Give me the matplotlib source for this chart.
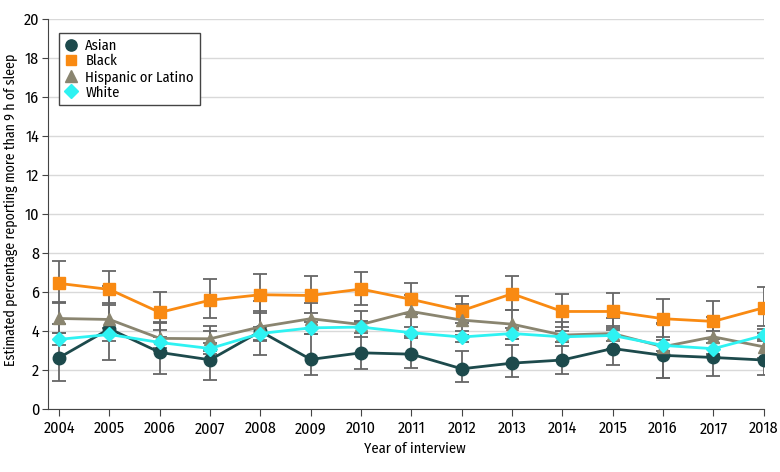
import matplotlib
matplotlib.use("Agg")
import matplotlib.pyplot as plt

plt.rcParams["font.family"] = ["Fira Sans Condensed", "DejaVu Sans"]

years = list(range(2004, 2019))

# ----------------------------
# SERIES (estimate, lower CI, upper CI)
# ----------------------------
asian = [2.62, 4.10, 2.89, 2.51, 3.97, 2.53, 2.87, 2.80, 2.05, 2.34, 2.50, 3.09, 2.74, 2.63, 2.50]
asian_lo = [1.42, 2.48, 1.78, 1.50, 2.75, 1.73, 2.02, 2.07, 1.37, 1.64, 1.78, 2.22, 1.59, 1.66, 1.71]
asian_hi = [4.36, 6.29, 4.44, 3.97, 5.52, 3.81, 4.46, 3.90, 2.96, 3.25, 3.42, 4.24, 4.36, 3.98, 3.56]

black = [6.43, 6.12, 4.94, 5.57, 5.85, 5.81, 6.14, 5.61, 5.03, 5.90, 4.99, 4.99, 4.62, 4.48, 5.18]
black_lo = [5.47, 5.30, 4.03, 4.63, 4.92, 4.92, 5.33, 4.84, 4.41, 5.06, 4.19, 4.15, 3.68, 3.59, 4.27]
black_hi = [7.57, 7.06, 5.98, 6.65, 6.90, 6.80, 7.01, 6.43, 5.78, 6.82, 5.90, 5.95, 5.64, 5.52, 6.24]

hisp = [4.63, 4.58, 3.61, 3.59, 4.20, 4.62, 4.32, 4.99, 4.55, 4.34, 3.78, 3.86, 3.18, 3.69, 3.18]
hisp_lo = [3.90, 3.85, 2.95, 2.95, 3.50, 3.81, 3.68, 3.73, 3.80, 3.60, 3.20, 3.05, 1.59, 2.75, 2.60]
hisp_hi = [5.40, 5.40, 4.40, 4.25, 5.00, 5.44, 5.04, 5.81, 5.38, 5.06, 4.44, 4.67, 4.41, 4.70, 3.90]

white = [3.56, 3.81, 3.40, 3.09, 3.86, 4.15, 4.19, 3.90, 3.68, 3.86, 3.69, 3.76, 3.25, 3.08, 3.76]
white_lo = [3.25, 3.50, 3.10, 2.80, 3.55, 3.85, 3.90, 3.62, 3.40, 3.58, 3.40, 3.48, 2.95, 2.80, 3.45]
white_hi = [3.90, 4.12, 3.70, 3.38, 4.18, 4.45, 4.50, 4.20, 3.98, 4.15, 4.00, 4.06, 3.55, 3.38, 4.08]

series = [
    ("Asian", asian, asian_lo, asian_hi, "#1d4a4c", "o", 9),
    ("Black", black, black_lo, black_hi, "#f98a12", "s", 8.5),
    ("Hispanic or Latino", hisp, hisp_lo, hisp_hi, "#8a8570", "^", 9),
    ("White", white, white_lo, white_hi, "#2ef2f2", "D", 7.5),
]

fig = plt.figure(figsize=(7.8, 4.72), dpi=100)
ax = fig.add_axes([0.061, 0.134, 0.918, 0.826])

for name, vals, lo, hi, col, mk, ms in series:
    err = [[v - l for v, l in zip(vals, lo)], [h - v for v, h in zip(vals, hi)]]
    _, caps, bars = ax.errorbar(years, vals, yerr=err, fmt="none", ecolor="#666666",
                                elinewidth=1.3, capsize=5, capthick=1.3, zorder=2)
    for c in caps:
        c.set_color(col)
    ax.plot(years, vals, color=col, marker=mk, markersize=ms, linewidth=2,
            label=name, zorder=3)

ax.set_xlim(2003.77, 2018)
ax.set_ylim(0, 20)
ax.set_xticks(years)
ax.set_yticks(range(0, 21, 2))
ax.yaxis.grid(True, color="#d9d9d9", linewidth=1)
ax.set_axisbelow(True)
for s in ["top", "right"]:
    ax.spines[s].set_visible(False)
for s in ["left", "bottom"]:
    ax.spines[s].set_color("#444444")
ax.tick_params(axis="both", labelsize=11.5, color="#444444", length=5, direction="out")
ax.tick_params(axis="y", length=4, pad=2)

ax.set_xlabel("Year of interview", fontsize=10.5)
ax.set_ylabel("Estimated percentage reporting more than 9 h of sleep", fontsize=10)
ax.xaxis.set_label_coords(0.513, -0.085)
ax.yaxis.set_label_coords(-0.042, 0.51)

leg = ax.legend(loc="upper left", bbox_to_anchor=(0.016, 0.965), borderaxespad=0,
                fontsize=10.5, fancybox=False, framealpha=1, edgecolor="#444444",
                markerscale=0.9, handlelength=0.9, handletextpad=0.5, borderpad=0.4,
                labelspacing=0.1)
for h in leg.legend_handles:
    h.set_linestyle("none")
leg.get_frame().set_linewidth(1)

fig.savefig("out.png", dpi=100)
